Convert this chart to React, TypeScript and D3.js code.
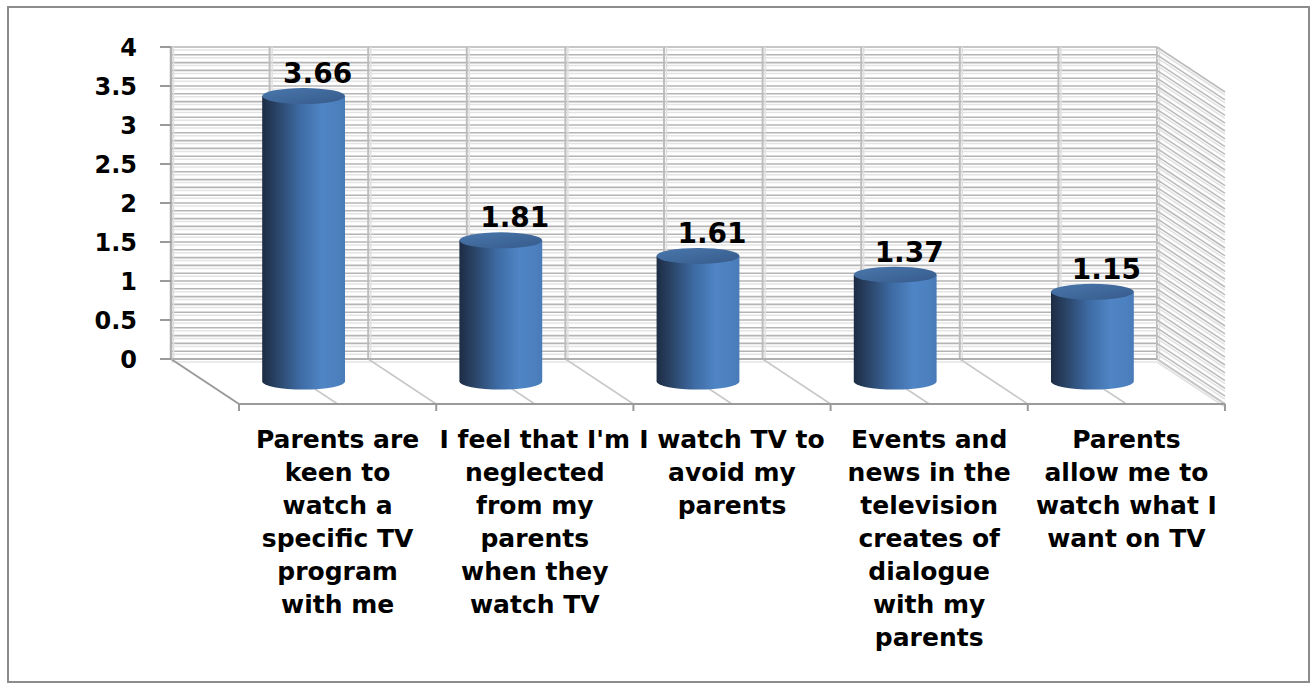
import React from "react";
import * as d3 from "d3";

const categories = [
  "Parents are\nkeen to\nwatch a\nspecific TV\nprogram\nwith me",
  "I feel that I'm\nneglected\nfrom my\nparents\nwhen they\nwatch TV",
  "I watch TV to\navoid my\nparents",
  "Events and\nnews in the\ntelevision\ncreates of\ndialogue\nwith my\nparents",
  "Parents\nallow me to\nwatch what I\nwant on TV",
];
const values = [3.66, 1.81, 1.61, 1.37, 1.15];
const yTicks = [0, 0.5, 1, 1.5, 2, 2.5, 3, 3.5, 4];
const yDomain = [0, 4];

const W = 1312;
const H = 688;
const wallLeft = 171;
const wallRight = 1157;
const wallTop = 47;
const wallBottom = 359;
const DX = 68;
const DY = 45;
const FONT = "'DejaVu Sans', Verdana, sans-serif";

export default function App() {
  const x = d3.scaleBand<string>().domain(categories).range([wallLeft, wallRight]).padding(0);
  const y = d3.scaleLinear().domain(yDomain).range([wallBottom, wallTop]);
  const bw = x.bandwidth();
  const gridVals = d3.range(0, 40.5, 1).map((d) => d / 10);
  const vLines = d3.range(0, categories.length * 2 + 1).map((i) => wallLeft + (i * bw) / 2);
  const rx = bw * 0.21;
  const ry = 8;

  return (
    <svg width={W} height={H} style={{ position: "absolute", left: 0, top: 0, background: "#fff" }}>
      <defs>
        <linearGradient id="body" x1="0" x2="1" y1="0" y2="0">
          <stop offset="0" stopColor="#1d2c44" />
          <stop offset="0.18" stopColor="#2a4467" />
          <stop offset="0.45" stopColor="#3d6aa2" />
          <stop offset="0.72" stopColor="#4f85c5" />
          <stop offset="0.9" stopColor="#4c80bf" />
          <stop offset="1" stopColor="#4a7bb8" />
        </linearGradient>
        <linearGradient id="top" x1="0" x2="1" y1="0" y2="1">
          <stop offset="0" stopColor="#4a77ad" />
          <stop offset="1" stopColor="#365b8a" />
        </linearGradient>
      </defs>
      <rect x={8} y={7} width={1301} height={675} fill="#fff" stroke="#8c8c8c" strokeWidth={2} />

      {gridVals.map((v, i) => (
        <g key={"h" + i}>
          <line x1={wallLeft} x2={wallRight} y1={y(v) + 3} y2={y(v) + 3} stroke="#e4e4e4" strokeWidth={1.5} />
          <line x1={wallLeft} x2={wallRight} y1={y(v)} y2={y(v)} stroke="#b4b4b4" strokeWidth={1.6} />
        </g>
      ))}
      {vLines.map((xv, i) => (
        <g key={"v" + i}>
          <line x1={xv + 2.5} x2={xv + 2.5} y1={wallTop} y2={wallBottom} stroke="#e0e0e0" strokeWidth={1.5} />
          <line x1={xv} x2={xv} y1={wallTop} y2={wallBottom} stroke="#bdbdbd" strokeWidth={2} />
        </g>
      ))}
      {gridVals.map((v, i) => (
        <g key={"r" + i}>
          <line x1={wallRight} x2={wallRight + DX} y1={y(v) + 3} y2={y(v) + DY + 3} stroke="#e2e2e2" strokeWidth={1.5} />
          <line x1={wallRight} x2={wallRight + DX} y1={y(v)} y2={y(v) + DY} stroke="#bcbcbc" strokeWidth={1.6} />
        </g>
      ))}
      {vLines.map((xv, i) => (
        <line key={"f" + i} x1={xv} x2={xv + DX} y1={wallBottom} y2={wallBottom + DY}
          stroke={i === 0 ? "#9a9a9a" : "#c8c8c8"} strokeWidth={i === 0 ? 2 : 1.5} />
      ))}
      <line x1={wallLeft} x2={wallRight} y1={wallBottom} y2={wallBottom} stroke="#b0b0b0" strokeWidth={2} />
      <line x1={wallLeft} x2={wallLeft} y1={wallTop} y2={wallBottom} stroke="#b0b0b0" strokeWidth={2.5} />
      <line x1={wallLeft + DX} x2={wallRight + DX} y1={wallBottom + DY} y2={wallBottom + DY} stroke="#9a9a9a" strokeWidth={2} />
      {d3.range(0, categories.length + 1).map((i) => {
        const xv = wallLeft + DX + i * bw;
        return <line key={"xt" + i} x1={xv} x2={xv} y1={wallBottom + DY} y2={wallBottom + DY + 7} stroke="#9a9a9a" strokeWidth={2} />;
      })}
      {yTicks.map((t) => (
        <g key={"yt" + t}>
          <line x1={wallLeft - 11} x2={wallLeft} y1={y(t)} y2={y(t)} stroke="#9a9a9a" strokeWidth={2} />
          <text x={137} y={y(t)} dy="0.36em" textAnchor="end" fontFamily={FONT} fontWeight="bold" fontSize={24} fill="#000">
            {String(t)}
          </text>
        </g>
      ))}
      {categories.map((c, i) => {
        const cx = (x(c) as number) + bw / 2 + DX / 2;
        const base = wallBottom + DY / 2;
        const top = y(values[i]) + DY / 2;
        const body = `M${cx - rx},${top} L${cx - rx},${base} A${rx},${ry} 0 0 0 ${cx + rx},${base} L${cx + rx},${top} Z`;
        return (
          <g key={"c" + i}>
            <path d={body} fill="url(#body)" />
            <ellipse cx={cx} cy={top} rx={rx} ry={ry} fill="url(#top)" />
            <text x={cx + 14} y={top - ry - 5} textAnchor="middle" fontFamily={FONT} fontWeight="bold" fontSize={28} fill="#000">
              {values[i].toFixed(2)}
            </text>
          </g>
        );
      })}
      {categories.map((c, i) => {
        const cx = (x(c) as number) + bw / 2 + DX;
        return (
          <text key={"cl" + i} textAnchor="middle" fontFamily={FONT} fontWeight="bold" fontSize={25} fill="#000">
            {c.split("\n").map((ln, j) => (
              <tspan key={j} x={cx} y={448 + j * 33}>{ln}</tspan>
            ))}
          </text>
        );
      })}
    </svg>
  );
}
